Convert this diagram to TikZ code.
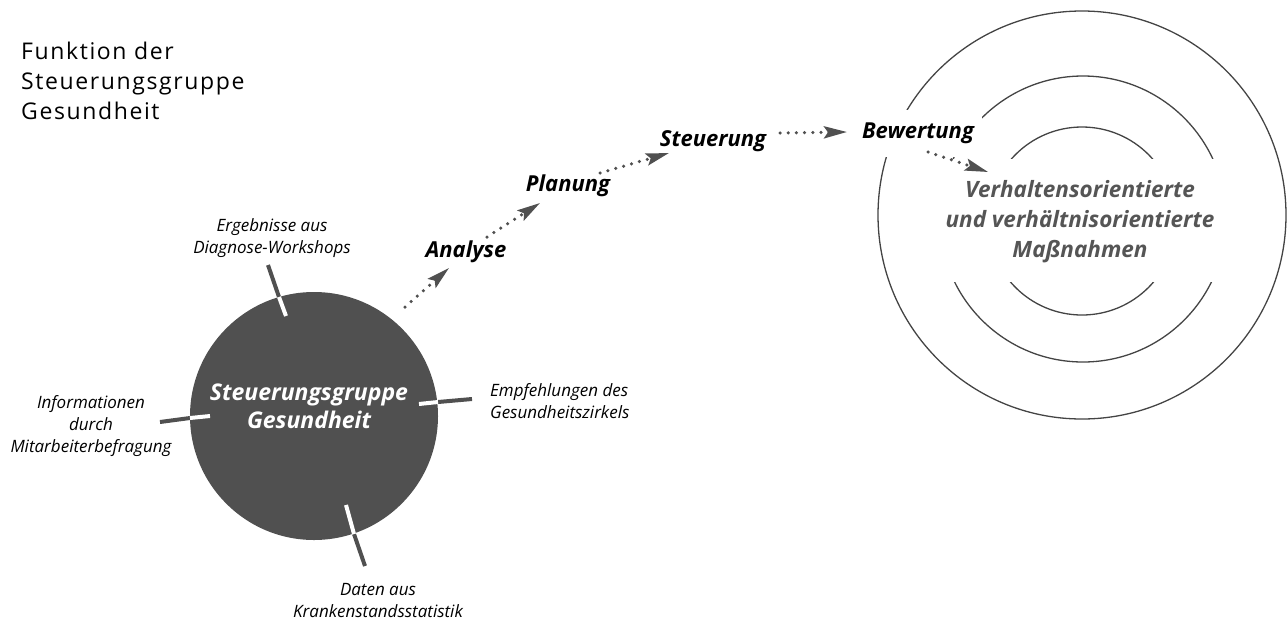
\documentclass[tikz,border=0pt]{standalone}
\usepackage{fontspec}
\setmainfont{Open Sans}
\newfontfamily\titlefont[LetterSpace=7]{Open Sans}
\usetikzlibrary{arrows.meta}
\definecolor{dg}{HTML}{505050}
\definecolor{ring}{HTML}{444444}
\definecolor{graytext}{HTML}{555555}
\tikzset{
  phase/.style={font=\fontsize{22}{26}\selectfont\bfseries\itshape, text=black, inner sep=1pt},
  small/.style={font=\fontsize{17}{22}\selectfont\itshape, align=center, inner sep=0pt},
  flow/.style={dg, line width=3.5pt, dash pattern=on 0pt off 8.2pt, line cap=round,
    -{Stealth[length=23pt,width=12pt,inset=4pt]}},
  ringline/.style={ring, line width=1.3pt},
  tickout/.style={dg, line width=4pt},
  tickin/.style={white, line width=4pt},
}
\begin{document}
\begin{tikzpicture}[x=1pt,y=-1pt]
\useasboundingbox (0,0) rectangle (1287,622);
% title
\node[anchor=base west, align=left, inner sep=0pt,
  font=\titlefont\fontsize{23}{30}\selectfont] (title) at (21,119)
  {Funktion der\\Steuerungsgruppe\\Gesundheit};
% concentric circles
\draw[ringline] (1082,215) circle[radius=204];
\draw[ringline] (1083,219) circle[radius=143];
\draw[ringline] (1082,221) circle[radius=94];
% white masks for the texts
\fill[white] (932,159) rectangle (1234,282);
\fill[white] (866,110) rectangle (982,157);
% right text
\node[font=\fontsize{22.5}{30}\selectfont\bfseries\itshape, text=graytext,
  align=center, inner sep=0pt] (mass) at (1080,222)
  {Verhaltensorientierte\\und verhältnisorientierte\\Maßnahmen};
% big circle
\node[circle, fill=dg, minimum size=248pt, inner sep=0pt] (sg) at (314,416) {};
\node[font=\fontsize{23}{28}\selectfont\bfseries\itshape, text=white,
  align=center, inner sep=0pt] (sgt) at (309,406) {Steuerungsgruppe\\Gesundheit};
% ticks
\coordinate (t1o) at (268,265); \coordinate (t1b) at (279,297); \coordinate (t1i) at (286,316);
\coordinate (t2o) at (472,399); \coordinate (t2b) at (438,402); \coordinate (t2i) at (419,404);
\coordinate (t3o) at (160,422); \coordinate (t3b) at (190,418); \coordinate (t3i) at (210,416);
\coordinate (t4o) at (365,566); \coordinate (t4b) at (354,534); \coordinate (t4i) at (346,505);
\foreach \t in {t1,t2,t3,t4}{
  \draw[tickout] (\t o) -- (\t b);
  \draw[tickin] (\t b) -- (\t i);
}
% small labels
\node[small] (lab1) at (272,238) {Ergebnisse aus\\Diagnose-Workshops};
\node[small, align=left, anchor=west] (lab2) at (490,401) {Empfehlungen des\\Gesundheitszirkels};
\node[small] (lab3) at (91,426) {Informationen\\durch\\Mitarbeiterbefragung};
\node[small] (lab4) at (378,601) {Daten aus\\Krankenstandsstatistik};
% phases
\node[phase] (ana) at (466,252) {Analyse};
\node[phase] (pla) at (568,186) {Planung};
\node[phase] (ste) at (713,141) {Steuerung};
\node[phase] (bew) at (918,133) {Bewertung};
% flow arrows
\coordinate (a1s) at (405,307); \coordinate (a1e) at (449,268);
\coordinate (a2s) at (487,237); \coordinate (a2e) at (540,203);
\coordinate (a3s) at (600,173); \coordinate (a3e) at (669,153);
\coordinate (a4s) at (780,133); \coordinate (a4e) at (847,132);
\coordinate (a5s) at (928,152); \coordinate (a5e) at (988,172);
\draw[flow] (a1s) -- (a1e);
\draw[flow] (a2s) -- (a2e);
\draw[flow] (a3s) -- (a3e);
\draw[flow] (a4s) -- (a4e);
\draw[flow] (a5s) -- (a5e);
\end{tikzpicture}
\end{document}
